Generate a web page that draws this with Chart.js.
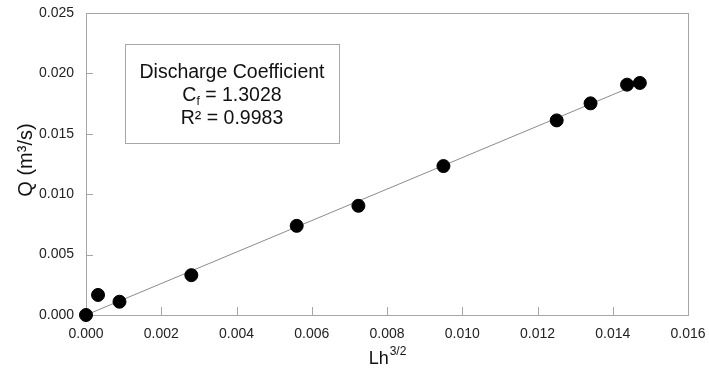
<!DOCTYPE html>
<html>
<head>
<meta charset="utf-8">
<script src="https://cdn.jsdelivr.net/npm/chart.js@4.4.0/dist/chart.umd.min.js"></script>
<style>
  html, body { margin: 0; padding: 0; background: #fff; }
  #wrap { width: 709px; height: 371px; }
</style>
</head>
<body>
<div id="wrap"><canvas id="chart" width="709" height="371"></canvas></div>
<script>
// measured points: Lh^(3/2) vs Q (m3/s)
const lhValues = [0.0000, 0.00032, 0.00089, 0.0028, 0.0056, 0.00724, 0.0095, 0.01251, 0.01341, 0.01438, 0.01472];
const qValues  = [0.0000, 0.00166, 0.0011, 0.0033, 0.00738, 0.00904, 0.01233, 0.01611, 0.01752, 0.01907, 0.01921];

// regression line ends
const fitX = [0, 0.0147];
const fitY = [0, 0.01915];

const xTicks = [0, 0.002, 0.004, 0.006, 0.008, 0.010, 0.012, 0.014, 0.016];
const yTicks = [0, 0.005, 0.010, 0.015, 0.020, 0.025];

const boxLines = { title: 'Discharge Coefficient', coef: '1.3028', r2: '0.9983' };

const FONT = '"Liberation Sans", Arial, sans-serif';
const FRAME = '#a6a6a6';

// frame, inward ticks, axis titles and the annotation box
const decorations = {
    id: 'decorations',
    beforeDatasetsDraw(chart) {
        const { ctx, chartArea: a, scales } = chart;
        ctx.save();
        ctx.strokeStyle = FRAME;
        ctx.lineWidth = 1;
        ctx.strokeRect(a.left + 0.5, a.top + 0.5, a.right - a.left, a.bottom - a.top);
        ctx.beginPath();
        xTicks.forEach(v => {
            const px = Math.round(scales.x.getPixelForValue(v)) + 0.5;
            ctx.moveTo(px, a.bottom);
            ctx.lineTo(px, a.bottom - 8);
        });
        yTicks.forEach(v => {
            const py = Math.round(scales.y.getPixelForValue(v)) + 0.5;
            ctx.moveTo(a.left, py);
            ctx.lineTo(a.left + 7, py);
        });
        ctx.stroke();
        ctx.restore();
    },
    afterDraw(chart) {
        const { ctx, chartArea: a } = chart;
        ctx.save();
        ctx.fillStyle = '#111';

        // x title Lh^(3/2)
        const cx = (a.left + a.right) / 2;
        ctx.font = '18px ' + FONT;
        ctx.textBaseline = 'alphabetic';
        const base = ctx.measureText('Lh').width;
        ctx.font = '12px ' + FONT;
        const sup = ctx.measureText('3/2').width;
        let x0 = cx - (base + sup) / 2;
        ctx.font = '18px ' + FONT;
        ctx.textAlign = 'left';
        ctx.fillText('Lh', x0, 364);
        ctx.font = '12px ' + FONT;
        ctx.fillText('3/2', x0 + base + 1, 355);

        // y title
        ctx.save();
        ctx.translate(26, (a.top + a.bottom) / 2 - 4);
        ctx.rotate(-Math.PI / 2);
        ctx.font = '20px ' + FONT;
        ctx.textAlign = 'center';
        ctx.textBaseline = 'middle';
        ctx.fillText('Q (m\u00b3/s)', 0, 0);
        ctx.restore();

        // annotation box
        ctx.strokeStyle = FRAME;
        ctx.lineWidth = 1;
        ctx.strokeRect(125.5, 44.5, 214, 99);
        const bx = 232;
        const big = '19.5px ' + FONT, small = '12px ' + FONT;
        ctx.font = big;
        ctx.textAlign = 'center';
        ctx.textBaseline = 'alphabetic';
        ctx.fillText(boxLines.title, bx, 78);

        ctx.textAlign = 'left';
        const c = 'C', rest = ' = ' + boxLines.coef;
        const wc = ctx.measureText(c).width;
        ctx.font = small;
        const ws = ctx.measureText('f').width;
        ctx.font = big;
        const wr = ctx.measureText(rest).width;
        let lx = bx - (wc + ws + wr) / 2;
        ctx.fillText(c, lx, 101);
        ctx.font = small;
        ctx.fillText('f', lx + wc, 105);
        ctx.font = big;
        ctx.fillText(rest, lx + wc + ws, 101);

        ctx.textAlign = 'center';
        ctx.fillText('R\u00b2 = ' + boxLines.r2, bx, 124);
        ctx.restore();
    }
};

new Chart(document.getElementById('chart'), {
    type: 'scatter',
    data: {
        datasets: [
            {
                type: 'line',
                data: fitX.map((x, i) => ({ x, y: fitY[i] })),
                borderColor: '#8c8c8c',
                borderWidth: 1,
                pointRadius: 0,
                fill: false,
                order: 2
            },
            {
                data: lhValues.map((x, i) => ({ x, y: qValues[i] })),
                backgroundColor: '#000',
                borderColor: '#000',
                pointRadius: 6.5,
                pointHoverRadius: 6.5,
                clip: false,
                order: 1
            }
        ]
    },
    plugins: [decorations],
    options: {
        responsive: false,
        animation: false,
        events: [],
        layout: { padding: { top: 13, right: 21, left: 0, bottom: 0 } },
        plugins: { legend: { display: false }, tooltip: { enabled: false } },
        scales: {
            x: {
                type: 'linear',
                min: 0, max: 0.016,
                afterBuildTicks: s => { s.ticks = xTicks.map(v => ({ value: v })); },
                afterFit: s => { s.height = 56; s.paddingLeft = 0; s.paddingRight = 0; },
                grid: { display: false, drawTicks: false },
                border: { display: false },
                ticks: {
                    padding: 11,
                    color: '#222',
                    font: { family: FONT, size: 14 },
                    callback: v => v.toFixed(3)
                }
            },
            y: {
                type: 'linear',
                min: 0, max: 0.025,
                afterBuildTicks: s => { s.ticks = yTicks.map(v => ({ value: v })); },
                afterFit: s => { s.width = 86; s.paddingTop = 0; s.paddingBottom = 0; },
                grid: { display: false, drawTicks: false },
                border: { display: false },
                ticks: {
                    padding: 12,
                    color: '#222',
                    font: { family: FONT, size: 14 },
                    callback: v => v.toFixed(3)
                }
            }
        }
    }
});
</script>
</body>
</html>
